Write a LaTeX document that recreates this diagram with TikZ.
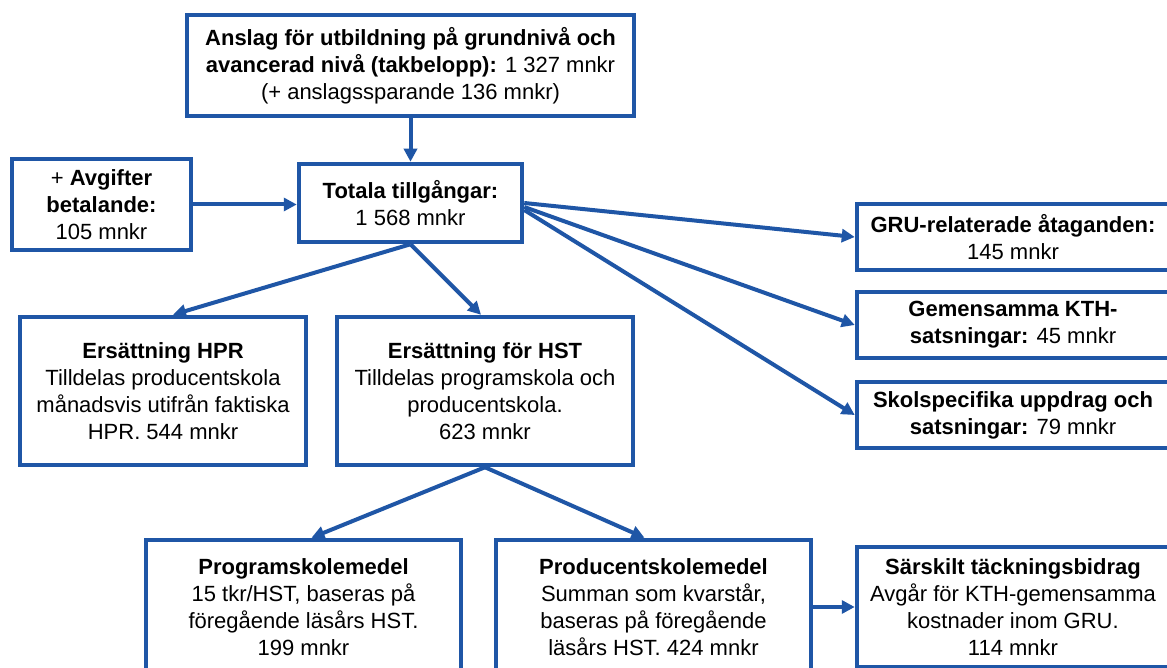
\documentclass[tikz,border=0pt]{standalone}
\usepackage{fontspec}
\setmainfont{Liberation Sans}
\usetikzlibrary{arrows.meta}
\definecolor{kthblue}{RGB}{31,86,166}

\begin{document}
\begin{tikzpicture}[
    x=1pt, y=-1pt,
    edge/.style={->, >={Triangle[length=13pt, width=13pt]}, draw=kthblue, line width=4pt},
    box/.style={rectangle, draw=kthblue, fill=white, line width=4.5pt, align=center, inner sep=0pt, font={\fontsize{22}{27}\selectfont}},
    small/.style={box, minimum width=312pt, minimum height=66pt},
    big/.style={box, minimum height=148pt}
]
\useasboundingbox (0,0) rectangle (1167,668);
\clip (0,0) rectangle (1167,668);
\fill[white] (0,0) rectangle (1167,668);

% Top: budget and total
\node[box, minimum width=447pt, minimum height=101pt] (anslag) at (410.5, 65.5)
    {\textbf{Anslag för utbildning på grundnivå och}\\\textbf{avancerad nivå (takbelopp):} 1 327 mnkr\\(+ anslagssparande 136 mnkr)};
\node[box, minimum width=179pt, minimum height=91pt] (avgift) at (101.5, 204.5)
    {+ \textbf{Avgifter}\\\textbf{betalande:}\\105 mnkr};
\node[box, minimum width=223pt, minimum height=78pt] (totala) at (410.5, 203)
    {\textbf{Totala tillgångar:}\\1 568 mnkr};

% Right column
\node[small] (gru) at (1013, 237) {\textbf{GRU-relaterade åtaganden:}\\145 mnkr};
\node[small] (gem) at (1013, 325) {\textbf{Gemensamma KTH-}\\\textbf{satsningar:} 45 mnkr};
\node[small] (skol) at (1013, 415) {\textbf{Skolspecifika uppdrag och}\\\textbf{satsningar:} 79 mnkr};

% Middle row
\node[big, minimum width=286pt] (hpr) at (163, 391)
    {\textbf{Ersättning HPR}\\Tilldelas producentskola\\månadsvis utifrån faktiska\\HPR. 544 mnkr};
\node[big, minimum width=296pt] (hst) at (485, 391)
    {\textbf{Ersättning för HST}\\Tilldelas programskola och\\producentskola.\\623 mnkr};

% Bottom row
\node[box, minimum width=315pt, minimum height=134pt] (prog) at (303.5, 607)
    {\textbf{Programskolemedel}\\15 tkr/HST, baseras på\\föregående läsårs HST.\\199 mnkr};
\node[box, minimum width=315pt, minimum height=134pt] (prod) at (653.5, 607)
    {\textbf{Producentskolemedel}\\Summan som kvarstår,\\baseras på föregående\\läsårs HST. 424 mnkr};
\node[box, minimum width=312pt, minimum height=120pt] (sark) at (1013, 607)
    {\textbf{Särskilt täckningsbidrag}\\Avgår för KTH-gemensamma\\kostnader inom GRU.\\114 mnkr};

% Connections into the total
\draw[edge] (anslag) -- (totala);
\draw[edge] (avgift.east) -- (avgift.east -| totala.west);

% Total -> right column
\draw[edge] (totala.east) -- (gru.west);
\draw[edge] ([yshift=-4pt]totala.east) -- (gem.west);
\draw[edge] ([yshift=-7pt]totala.east) -- (skol.west);

% Total -> HPR / HST
\draw[edge] (totala.south) -- ([xshift=10pt]hpr.north);
\draw[edge] (totala.south) -- ([xshift=-4pt]hst.north);

% HST -> schools
\draw[edge] (hst.south) -- ([xshift=8pt]prog.north);
\draw[edge] (hst.south) -- ([xshift=-9pt]prod.north);
\draw[edge] (prod.east) -- (sark.west);

\end{tikzpicture}
\end{document}
